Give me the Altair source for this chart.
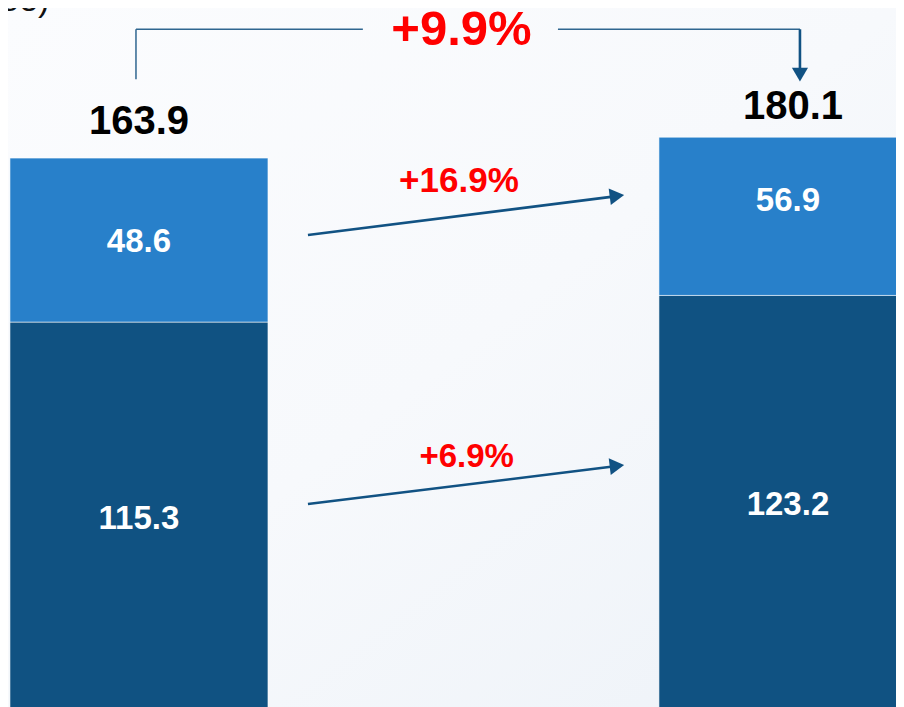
import altair as alt
import pandas as pd

# ---------------- data ----------------
periods = ["Period 1", "Period 2"]
period_pos = [0, 1]
bottom_vals = [115.3, 123.2]
top_vals = [48.6, 56.9]
top_drawn = [48.6, 46.9]          # visible height of the upper segment as drawn in the picture
totals = [163.9, 180.1]
bottom_labels = ["115.3", "123.2"]
top_labels = ["48.6", "56.9"]
total_labels = ["163.9", "180.1"]
growth_labels = ["+16.9%", "+6.9%"]
overall_label = "+9.9%"
unit_label = "(Mtoe)"

# ---------------- style / layout ----------------
DARK = "#105282"
LIGHT = "#2880ca"
ARROW = "#115283"
RED = "#ff0000"
FONT = "Liberation Sans"
W, H = 888, 699

xs = alt.Scale(domain=[-0.2018, 1.1665], nice=False, zero=False, padding=0)
ys = alt.Scale(domain=[1.19, 208.4], nice=False, zero=False, padding=0)

def X(field="x"):
    return alt.X(f"{field}:Q", scale=xs, axis=None)

def Y(field="y"):
    return alt.Y(f"{field}:Q", scale=ys, axis=None)

# bar segments
seg_rows = []
for i, p in enumerate(periods):
    seg_rows.append(dict(period=p, x=period_pos[i], y0=0, y1=bottom_vals[i], seg="bottom"))
    seg_rows.append(dict(period=p, x=period_pos[i], y0=bottom_vals[i],
                         y1=bottom_vals[i] + top_drawn[i], seg="top"))
segs = pd.DataFrame(seg_rows)

lab = pd.DataFrame(dict(
    period=periods, x=period_pos,
    bmid=[b / 2 for b in bottom_vals],
    tmid=[b + t / 2 for b, t in zip(bottom_vals, top_vals)],
    drawn_top=[b + t for b, t in zip(bottom_vals, top_drawn)],
    blab=bottom_labels, tlab=top_labels, total=total_labels,
))

bg = alt.Chart(pd.DataFrame({"a": [0]})).mark_rect(
    fill=alt.LinearGradient(
        gradient="linear",
        stops=[alt.GradientStop(color="#fbfcfe", offset=0),
               alt.GradientStop(color="#f7f9fc", offset=0.5),
               alt.GradientStop(color="#edf2f8", offset=1)],
        x1=0, y1=0, x2=1, y2=1),
).encode(x=alt.value(0), x2=alt.value(W), y=alt.value(0), y2=alt.value(H))

bars = alt.Chart(segs).mark_bar(size=258, stroke="#ffffff", strokeWidth=0.8, strokeOpacity=0.7).encode(
    x=X(), y=Y("y0"), y2="y1:Q",
    color=alt.Color("seg:N", scale=alt.Scale(domain=["bottom", "top"], range=[DARK, LIGHT]), legend=None),
)

bot_text = alt.Chart(lab).mark_text(font=FONT, fontWeight="bold", fontSize=33, color="white",
                                    baseline="alphabetic", dy=12).encode(x=X(), y=Y("bmid"), text="blab:N")
top_text = alt.Chart(lab).mark_text(font=FONT, fontWeight="bold", fontSize=33, color="white",
                                    baseline="alphabetic", dy=12).encode(x=X(), y=Y("tmid"), text="tlab:N")

total_dy = [-24, -18]
total_dx = [0, 5]
total_layers = []
for i, p in enumerate(periods):
    total_layers.append(
        alt.Chart(lab).transform_filter(alt.datum.period == p).mark_text(
            font=FONT, fontWeight="bold", fontSize=40, color="#000000",
            baseline="alphabetic", dy=total_dy[i], dx=total_dx[i]
        ).encode(x=X(), y=Y("drawn_top"), text="total:N")
    )

# growth arrows between the bars
arrows = pd.DataFrame(dict(
    x=[0.2604, 0.2604], y=[141.1, 61.35],
    x2=[0.7273, 0.7273], y2=[152.4, 72.4],
))
arrow_lines = alt.Chart(arrows).mark_rule(color=ARROW, strokeWidth=2.6).encode(
    x=X(), y=Y(), x2="x2:Q", y2="y2:Q")
heads = pd.DataFrame(dict(x=[0.7365, 0.7365], y=[152.7, 72.7], ang=[352.8, 353.0]))
arrow_heads = alt.Chart(heads).mark_point(shape="triangle-right", filled=True, size=280,
                                          color=ARROW, opacity=1).encode(
    x=X(), y=Y(), angle=alt.Angle("ang:Q", scale=None))

growth = pd.DataFrame(dict(x=[0.493, 0.505], y=[153.9, 72.4], t=growth_labels, fs=[35, 33]))
growth_text = alt.Chart(growth).mark_text(font=FONT, fontWeight="bold", color=RED,
                                          baseline="alphabetic").encode(
    x=X(), y=Y(), text="t:N", size=alt.Size("fs:Q", scale=None, legend=None))

# overall bracket
brk = pd.DataFrame(dict(
    x=[-0.0046, -0.0046, 0.6456],
    x2=[-0.0046, 0.345, 1.0185],
    y=[187.3, 202.1, 202.1],
    y2=[202.1, 202.1, 202.1],
))
bracket = alt.Chart(brk).mark_rule(color="#2f6690", strokeWidth=1.5).encode(
    x=X(), y=Y(), x2="x2:Q", y2="y2:Q")
brk_down = alt.Chart(pd.DataFrame(dict(x=[1.0185], x2=[1.0185], y=[202.1], y2=[190.6]))).mark_rule(
    color=ARROW, strokeWidth=2.6).encode(x=X(), y=Y(), x2="x2:Q", y2="y2:Q")
brk_head = alt.Chart(pd.DataFrame(dict(x=[1.0185], y=[188.65]))).mark_point(
    shape="triangle-down", filled=True, size=260, color=ARROW, opacity=1).encode(x=X(), y=Y())
overall = alt.Chart(pd.DataFrame(dict(x=[0.497], y=[197.4], t=[overall_label]))).mark_text(
    font=FONT, fontWeight="bold", fontSize=49, color=RED, baseline="alphabetic").encode(
    x=X(), y=Y(), text="t:N")

unit = alt.Chart(pd.DataFrame(dict(x=[-0.138], y=[207.5], t=[unit_label]))).mark_text(
    font=FONT, fontSize=34, color="#111111", align="right", baseline="alphabetic").encode(
    x=X(), y=Y(), text="t:N")

chart = alt.layer(
    bg, bars, bot_text, top_text, *total_layers,
    arrow_lines, arrow_heads, growth_text,
    bracket, brk_down, brk_head, overall, unit,
).properties(
    width=W, height=H, autosize=alt.AutoSizeParams(type="none"), padding=0,
    background="#f9fafc",
).configure_view(stroke=None)

chart.save("out.html", embed_options={"renderer": "svg", "actions": False})
